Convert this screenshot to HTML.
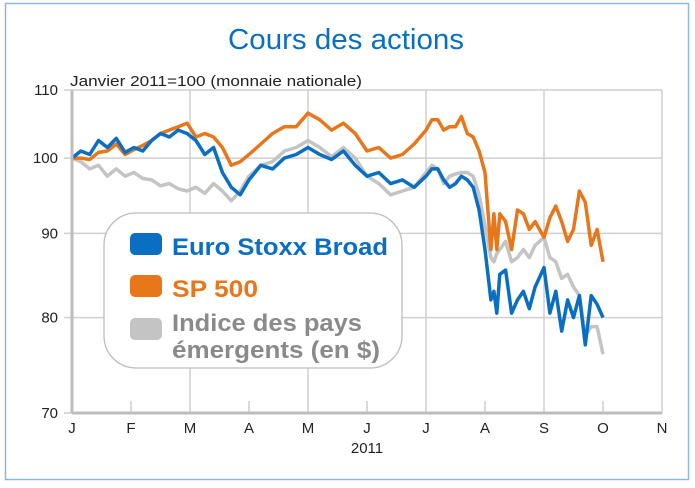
<!DOCTYPE html>
<html><head><meta charset="utf-8">
<style>
html,body{margin:0;padding:0;background:#fff;}
body{width:695px;height:483px;overflow:hidden;font-family:"Liberation Sans",sans-serif;}
</style></head>
<body>
<svg id="chart" width="695" height="483" viewBox="0 0 695 483" xmlns="http://www.w3.org/2000/svg">
<rect x="5.5" y="3.5" width="683" height="476" fill="#fff" stroke="#8fb8de" stroke-width="1.5"/>
<text x="346" y="49" text-anchor="middle" font-size="29" fill="#0a6fc2" textLength="236" lengthAdjust="spacingAndGlyphs">Cours des actions</text>
<text x="70" y="86" font-size="14.5" fill="#222" textLength="292" lengthAdjust="spacingAndGlyphs">Janvier 2011=100 (monnaie nationale)</text>
<g id="grid"></g>
<g id="series"></g>
<g id="axes"></g>
<g>
<rect x="104" y="213" width="298" height="155" rx="32" fill="#fff" stroke="#bdbdbd" stroke-width="1.3"/>
<rect x="130" y="233" width="32" height="22" rx="5" fill="#0a6fc2"/>
<text x="172" y="255" font-size="24" font-weight="bold" fill="#0a6fc2" textLength="216" lengthAdjust="spacingAndGlyphs">Euro Stoxx Broad</text>
<rect x="130" y="275" width="32" height="22" rx="5" fill="#e8761a"/>
<text x="172" y="297" font-size="24" font-weight="bold" fill="#e8761a" textLength="86" lengthAdjust="spacingAndGlyphs">SP 500</text>
<rect x="130" y="318" width="32" height="22" rx="5" fill="#c4c4c4"/>
<text x="172" y="331" font-size="24" font-weight="bold" fill="#8a8a8a" textLength="190" lengthAdjust="spacingAndGlyphs">Indice des pays</text>
<text x="172" y="358" font-size="24" font-weight="bold" fill="#8a8a8a" textLength="208" lengthAdjust="spacingAndGlyphs">émergents (en $)</text>
</g>
</svg>
<script>
const monthLabels=["J","F","M","A","M","J","J","A","S","O","N"];
const yTicks=[70,80,90,100,110];
// time in months since Jan 1 2011
const times=[0,0.15,0.3,0.45,0.6,0.75,0.9,1.05,1.2,1.35,1.5,1.65,1.8,1.95,2.1,2.25,2.4,2.55,2.7,2.85,3.0,3.2,3.4,3.6,3.8,4.0,4.2,4.4,4.6,4.8,5.0,5.2,5.4,5.6,5.8,6.0,6.1,6.2,6.3,6.4,6.5,6.6,6.7,6.8,6.9,7.0,7.1,7.15,7.2,7.25,7.35,7.45,7.55,7.65,7.75,7.85,8.0,8.1,8.2,8.3,8.4,8.5,8.6,8.7,8.8,8.9,9.0];
const euroStoxx=[100,101,100.5,102.5,101.5,102.8,100.8,101.5,101,102.5,103.5,103,104,103.5,102.5,100.5,101.5,98,96,95,97,99,98.5,100,100.5,101.5,100.5,99.8,101,99,97.5,98,96.5,97,96,97.5,98.5,98.5,97,96,96.5,97.5,97,96,93,88,82,83,80.5,85,85.5,80.5,82,83,81,83.5,85.8,80.5,83,78.5,82,80,82.5,77,82.5,81.5,80];
const sp500=[100,100,99.8,100.8,101,102,100.5,101.2,101.8,102.5,103.5,104,104.5,105,103,103.5,103,101.5,99,99.5,100.5,102,103.5,104.5,104.5,106.5,105.5,104,105,103.5,101,101.5,100,100.5,102,104,105.5,105.5,104,104.5,104.5,106,103.5,103,101,98,88,92.5,88,92.5,91.5,88,93,92.5,90.5,91.5,89.5,92,93.5,91.5,89,90.5,95.5,94,88.5,90.5,86.5];
const emerging=[100,99.5,98.5,99,97.5,98.5,97.5,98,97.2,97,96.2,96.5,95.8,95.5,96,95.2,96.5,95.5,94.2,95.5,97.5,99,99.5,101,101.5,102.5,101.5,100.2,101.5,100,97.5,96.5,95,95.5,96,98,99,98.5,96.5,97.5,97.8,98,98,97.5,95,91,87,86.5,87.5,88,89,86.5,87,88,87,88.5,89.5,87,86.5,84.5,85,83.5,82.5,78,79,79,76];
const L=72,R=662,T=90,B=413;
const ns="http://www.w3.org/2000/svg";
const lmin=Math.log10(70),lmax=Math.log10(110);
function xs(m){return L+(R-L)*m/10;}
function ys(v){return B-(B-T)*(Math.log10(v)-lmin)/(lmax-lmin);}
function mk(tag,attrs,parent){const e=document.createElementNS(ns,tag);for(const k in attrs)e.setAttribute(k,attrs[k]);parent.appendChild(e);return e;}
const grid=document.getElementById('grid'),axes=document.getElementById('axes'),ser=document.getElementById('series');
yTicks.forEach(v=>{
  const y=ys(v);
  const ln=mk('line',{x1:64,x2:R,y1:y,y2:y,stroke:'#cfcfcf','stroke-width':1.5},grid);
  
  
  const t=mk('text',{x:58,y:y+5,'text-anchor':'end','font-size':15,fill:'#222'},axes);
  t.textContent=v;
  
  
});
monthLabels.forEach((m,i)=>{
  const x=xs(i);
  const ln=mk('line',{x1:x,x2:x,y1:(i%2===0)?T:B-12,y2:B,stroke:'#cfcfcf','stroke-width':1.5},grid);
  
  
  const t=mk('text',{x:x,y:B+20,'text-anchor':'middle','font-size':15,fill:'#222'},axes);
  t.textContent=m;
  
  
});
const yr=mk('text',{x:xs(5),y:B+40,'text-anchor':'middle','font-size':15,fill:'#222'},axes);
yr.textContent='2011';


const ax1=mk('line',{x1:L,x2:L,y1:T,y2:B,stroke:'#bdbdbd','stroke-width':3},axes);


const ax2=mk('line',{x1:L,x2:R,y1:B,y2:B,stroke:'#bdbdbd','stroke-width':3},axes);


function draw(vals,color,name){
  const d=vals.map((v,i)=>(i?'L':'M')+xs(times[i]).toFixed(1)+','+ys(v).toFixed(1)).join('');
  const p=mk('path',{d:d,fill:'none',stroke:color,'stroke-width':3.5,'stroke-linejoin':'round'},ser);
  
  
}
draw(emerging,'#c4c4c4','line-emerging');
draw(sp500,'#e8761a','line-sp500');
draw(euroStoxx,'#0a6fc2','line-euro-stoxx');
</script>
</body></html>
